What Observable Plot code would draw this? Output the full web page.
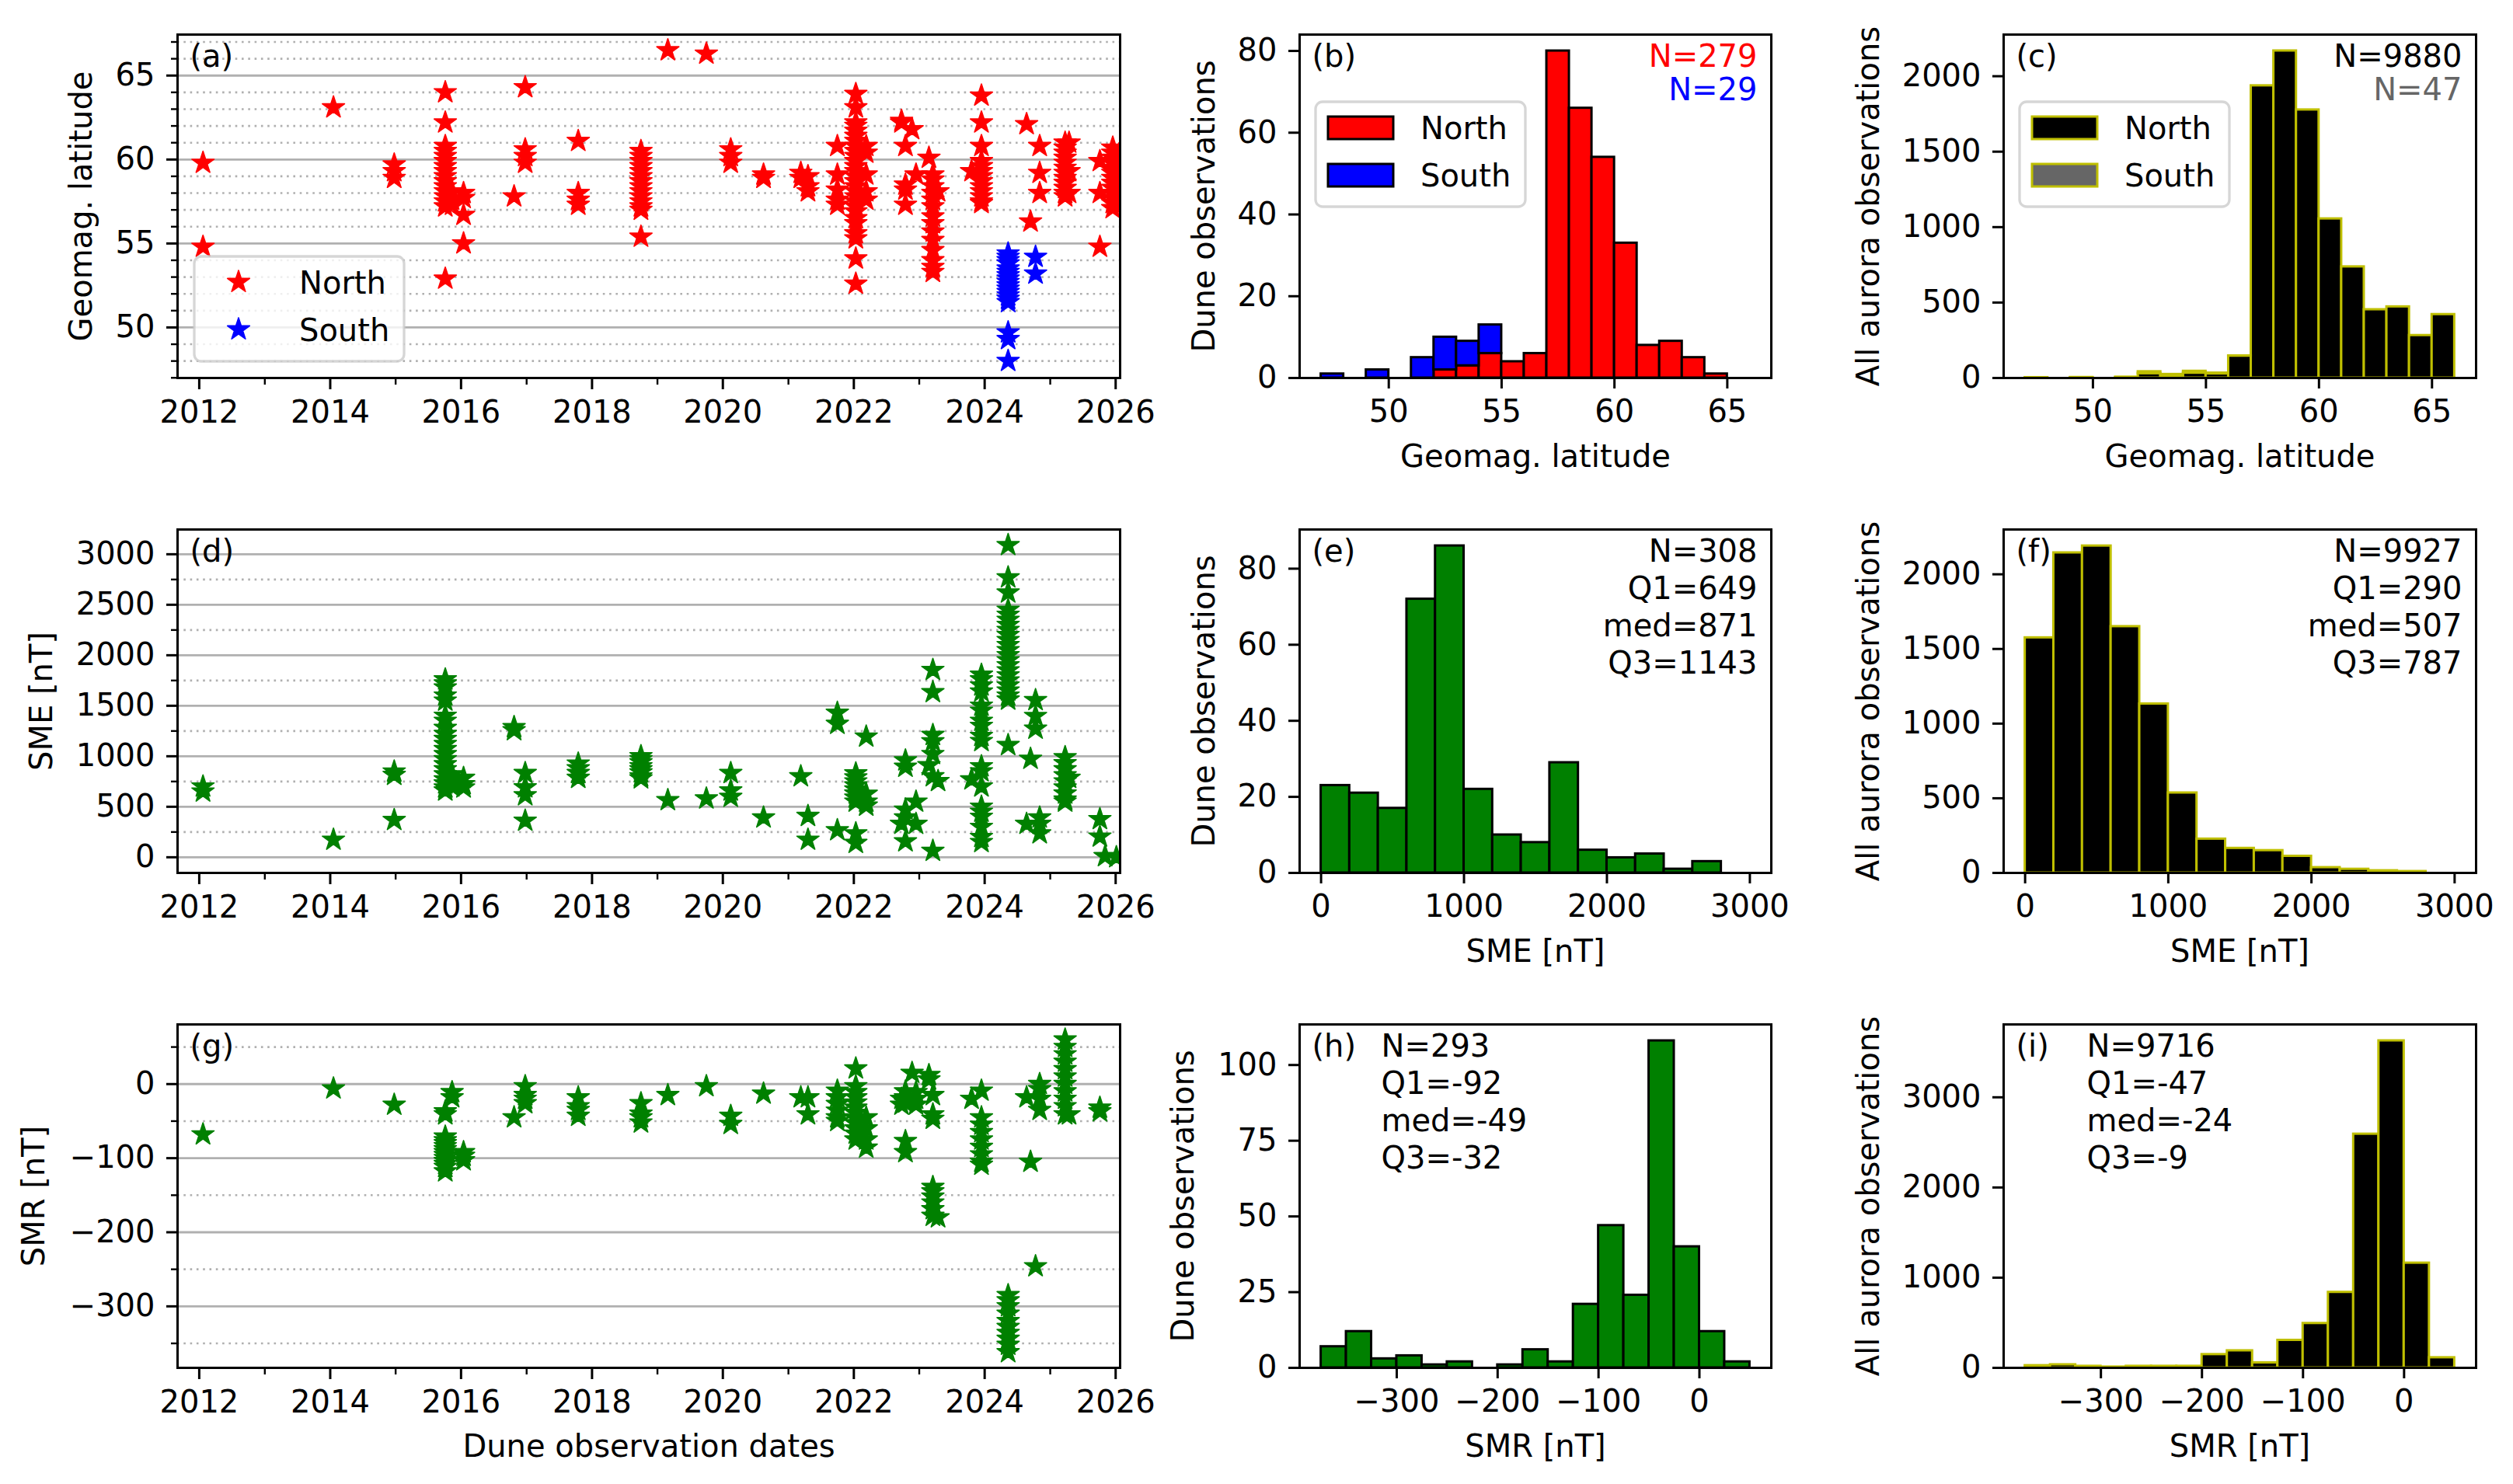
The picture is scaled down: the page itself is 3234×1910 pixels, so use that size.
<!DOCTYPE html>
<html>
<head>
<meta charset="utf-8">
<script src="https://cdn.jsdelivr.net/npm/d3@7"></script>
<script src="https://cdn.jsdelivr.net/npm/@observablehq/plot@0.6"></script>
<style>
  html, body { margin: 0; padding: 0; background: #ffffff; }
  #fig { position: relative; width: 3234px; height: 1910px; background: #ffffff; overflow: hidden;
         font-family: "DejaVu Sans", sans-serif; }
</style>
</head>
<body>
<div id="fig"></div>
<script>
// ---------------- DATA ----------------
// Scatter observations: [date, [values...]]
const northLat = [
  ["2012-01-22", [59.8, 54.8]],
  ["2014-01-19", [63.1]],
  ["2014-12-24", [59.7, 59.3, 58.9]],
  ["2015-10-05", [64.0, 62.2, 60.8, 60.5, 60.2, 59.9, 59.6, 59.3, 59.0, 58.7, 58.4, 58.1, 57.8, 57.5, 57.2, 52.9]],
  ["2015-11-12", [58.1, 57.6, 57.3]],
  ["2016-01-15", [58.0, 57.7, 56.7, 55.0]],
  ["2016-10-23", [57.8]],
  ["2016-12-24", [64.3, 60.6, 60.2, 59.8]],
  ["2017-10-16", [61.1, 58.0, 57.6, 57.3]],
  ["2018-10-01", [60.5, 60.2, 59.9, 59.6, 59.3, 59.0, 58.7, 58.4, 58.1, 57.8, 57.5, 57.2, 57.0, 55.4]],
  ["2019-02-28", [66.5]],
  ["2019-10-01", [66.3]],
  ["2020-02-14", [60.6, 60.2, 59.8]],
  ["2020-08-15", [59.1, 58.9]],
  ["2021-03-11", [59.2, 58.9]],
  ["2021-04-20", [59.0, 58.4, 58.1]],
  ["2021-10-01", [60.8, 59.1, 58.2, 57.6, 57.3]],
  ["2022-01-12", [63.9, 63.1, 62.2, 62.0, 61.7, 61.4, 61.1, 60.8, 60.5, 60.2, 59.9, 59.6, 59.3, 59.0, 58.7, 58.4, 58.1, 57.8, 57.5, 57.2, 56.9, 56.5, 56.2, 55.6, 55.3, 54.1, 52.6]],
  ["2022-03-11", [60.8, 60.4, 59.1, 58.1, 57.6]],
  ["2022-09-24", [62.3, 62.2]],
  ["2022-10-16", [60.8, 58.5, 58.2, 57.3]],
  ["2022-11-22", [61.8]],
  ["2022-12-14", [59.1]],
  ["2023-02-24", [60.1]],
  ["2023-03-18", [59.1, 58.8, 58.4, 58.0, 57.6, 57.2, 56.6, 56.2, 55.7, 55.2, 54.6, 54.0, 53.6, 53.3]],
  ["2023-04-16", [58.1]],
  ["2023-10-20", [59.3]],
  ["2023-12-14", [63.8, 62.2, 60.8, 59.9, 59.6, 59.3, 59.0, 58.7, 58.4, 58.1, 57.8, 57.5, 57.4]],
  ["2024-08-22", [62.1]],
  ["2024-09-13", [56.3]],
  ["2024-11-03", [60.8, 59.2, 58.0]],
  ["2025-03-25", [61.0, 60.7, 60.4, 60.1, 59.8, 59.5, 59.2, 58.9, 58.6, 58.3, 58.0, 57.8]],
  ["2025-04-16", [61.0, 59.3, 58.0]],
  ["2025-10-05", [59.9, 58.0, 54.8]],
  ["2025-12-16", [60.7, 60.4, 60.1, 59.8, 59.5, 59.2, 58.9, 58.6, 58.3, 58.0, 57.7, 57.4, 57.1]],
  ["2026-01-19", [60.3, 59.5, 58.5, 57.8]]
];
const southLat = [
  ["2024-05-11", [54.4, 54.2, 54.0, 53.8, 53.5, 53.3, 53.1, 52.9, 52.7, 52.5, 52.3, 52.1, 51.9, 51.7, 51.5, 49.7, 49.3, 48.0]],
  ["2024-10-11", [54.2, 53.2]]
];
const smeObs = [
  ["2012-01-22", [700, 650]],
  ["2014-01-19", [173]],
  ["2014-12-24", [848, 815, 368]],
  ["2015-10-05", [1760, 1720, 1680, 1600, 1550, 1400, 1350, 1280, 1220, 1170, 1120, 1070, 1020, 970, 920, 870, 820, 770, 730, 690, 660]],
  ["2015-11-12", [820, 780, 740, 700]],
  ["2016-01-15", [785, 723, 690]],
  ["2016-10-23", [1288, 1257]],
  ["2016-12-24", [833, 691, 613, 361]],
  ["2017-10-16", [927, 880, 833, 785]],
  ["2018-10-01", [1000, 970, 940, 900, 870, 840, 800, 780]],
  ["2019-02-28", [565]],
  ["2019-10-01", [581]],
  ["2020-02-14", [833, 660, 597]],
  ["2020-08-15", [393]],
  ["2021-03-11", [801]],
  ["2021-04-20", [408, 173]],
  ["2021-10-01", [1430, 1320, 267]],
  ["2022-01-12", [830, 790, 750, 710, 670, 630, 590, 550, 236, 141]],
  ["2022-03-11", [1194, 628, 550, 510]],
  ["2022-09-24", [330]],
  ["2022-10-16", [958, 895, 471, 393, 157]],
  ["2022-12-14", [550, 330]],
  ["2023-02-24", [911]],
  ["2023-03-18", [1854, 1634, 1210, 1147, 1021, 801, 63]],
  ["2023-04-16", [754]],
  ["2023-10-20", [770]],
  ["2023-12-14", [1806, 1760, 1700, 1640, 1500, 1450, 1350, 1300, 1200, 1150, 900, 850, 700, 500, 450, 400, 300, 200, 150]],
  ["2024-05-11", [3090, 2770, 2620, 2450, 2400, 2350, 2300, 2250, 2200, 2150, 2100, 2050, 2000, 1950, 1900, 1850, 1800, 1750, 1700, 1650, 1600, 1560, 1110]],
  ["2024-08-22", [330]],
  ["2024-09-13", [974]],
  ["2024-10-11", [1555, 1398, 1272]],
  ["2024-11-03", [393, 330, 236]],
  ["2025-03-25", [990, 930, 870, 810, 750, 690, 630, 570, 550]],
  ["2025-04-16", [785]],
  ["2025-10-05", [377, 204]],
  ["2025-11-03", [10]],
  ["2026-01-05", [0]]
];
const smrObs = [
  ["2012-01-22", [-68]],
  ["2014-01-19", [-6]],
  ["2014-12-24", [-28]],
  ["2015-10-05", [-37, -41, -71, -76, -80, -84, -88, -92, -96, -100, -104, -108, -112, -118]],
  ["2015-11-12", [-11, -18]],
  ["2016-01-15", [-92, -97, -103]],
  ["2016-10-23", [-45]],
  ["2016-12-24", [-3, -15, -20, -26]],
  ["2017-10-16", [-18, -30, -35, -43]],
  ["2018-10-01", [-26, -40, -45, -52]],
  ["2019-02-28", [-15]],
  ["2019-10-01", [-3]],
  ["2020-02-14", [-43, -54]],
  ["2020-08-15", [-13]],
  ["2021-03-11", [-18]],
  ["2021-04-20", [-18, -41]],
  ["2021-10-01", [-9, -18, -27, -36, -45, -50]],
  ["2022-01-12", [21, -3, -11, -18, -25, -32, -39, -46, -53, -60, -67, -75]],
  ["2022-03-11", [-45, -60, -75, -86]],
  ["2022-09-24", [-20, -28]],
  ["2022-10-16", [-10, -18, -25, -77, -92]],
  ["2022-11-22", [15]],
  ["2022-12-14", [-11, -20, -28]],
  ["2023-02-24", [12, 6]],
  ["2023-03-18", [-15, -41, -47, -139, -145, -152, -160, -169, -178]],
  ["2023-04-16", [-180]],
  ["2023-10-20", [-20]],
  ["2023-12-14", [-9, -45, -55, -65, -75, -85, -95, -105, -109]],
  ["2024-05-11", [-285, -292, -300, -310, -320, -328, -336, -344, -352, -362]],
  ["2024-08-22", [-18]],
  ["2024-09-13", [-105]],
  ["2024-10-11", [-246]],
  ["2024-11-03", [0, -7, -20, -35]],
  ["2025-03-25", [60, 50, 40, 30, 20, 10, 0, -10, -20, -30, -41]],
  ["2025-04-16", [-41]],
  ["2025-10-05", [-32, -37]]
];

// Histogram bins (edges) and counts
const latEdges = [47, 48, 49, 50, 51, 52, 53, 54, 55, 56, 57, 58, 59, 60, 61, 62, 63, 64, 65, 66];
const duneLatNorth = [0, 0, 0, 0, 0, 2, 3, 6, 4, 6, 80, 66, 54, 33, 8, 9, 5, 1, 0];
const duneLatSouth = [1, 0, 2, 0, 5, 8, 6, 7, 0, 0, 0, 0, 0, 0, 0, 0, 0, 0, 0];
const allLatNorth  = [1, 0, 2, 0, 3, 30, 14, 33, 28, 146, 1937, 2168, 1777, 1055, 737, 453, 472, 282, 421];
const allLatSouth  = [2, 0, 2, 0, 3, 12, 10, 12, 5, 1, 0, 0, 0, 0, 0, 0, 0, 0, 0];

const smeEdges = [0, 200, 400, 600, 800, 1000, 1200, 1400, 1600, 1800, 2000, 2200, 2400, 2600, 2800];
const duneSme = [23, 21, 17, 72, 86, 22, 10, 8, 29, 6, 4, 5, 1, 3];
const allSme  = [1575, 2144, 2190, 1650, 1132, 536, 227, 165, 150, 112, 36, 25, 15, 10];

const smrEdges = [-375, -350, -325, -300, -275, -250, -225, -200, -175, -150, -125, -100, -75, -50, -25, 0, 25, 50];
const duneSmr = [7, 12, 3, 4, 1, 2, 0, 1, 6, 2, 21, 47, 24, 108, 40, 12, 2];
const allSmr  = [25, 35, 18, 10, 18, 18, 18, 148, 190, 56, 306, 493, 838, 2592, 3627, 1162, 113];

// Tick values
const yearTicks = [2012, 2014, 2016, 2018, 2020, 2022, 2024, 2026];
const yearMinorTicks = [2013, 2015, 2017, 2019, 2021, 2023, 2025];
const latMajor = [50, 55, 60, 65];
const latMinor = [47, 48, 49, 51, 52, 53, 54, 56, 57, 58, 59, 61, 62, 63, 64, 66, 67];
const smeMajor = [0, 500, 1000, 1500, 2000, 2500, 3000];
const smeMinor = [250, 750, 1250, 1750, 2250, 2750];
const smrMajor = [-300, -200, -100, 0];
const smrMinor = [-350, -250, -150, -50, 50];

// Text annotations
const statsE = ["N=308", "Q1=649", "med=871", "Q3=1143"];
const statsF = ["N=9927", "Q1=290", "med=507", "Q3=787"];
const statsH = ["N=293", "Q1=-92", "med=-49", "Q3=-32"];
const statsI = ["N=9716", "Q1=-47", "med=-24", "Q3=-9"];

// ---------------- LAYOUT ----------------
const COLX = [[228, 1441], [1672, 2279], [2578, 3186]];
const ROWY = [[44, 486], [681, 1123], [1318, 1760]];
const M = {l: 240, r: 40, t: 24, b: 150};
const GRID = "#b0b0b0";
const YELLOW = "#bfbf00";
const STAR_R = 9.0;
const fig = document.getElementById("fig");

const fmt = d => (d < 0 ? "\u2212" : "") + Math.abs(d);
const utc = s => new Date(s + "T00:00:00Z");
const yearDate = y => new Date(Date.UTC(y, 0, 1));
const toPoints = obs => obs.flatMap(([d, vs]) => vs.map(v => ({date: utc(d), v})));
const dateDomain = [utc("2011-09-02"), utc("2026-01-26")];

function panel(col, row, x, y, marks) {
  const [fx0, fx1] = COLX[col], [fy0, fy1] = ROWY[row];
  const svg = Plot.plot({
    width: fx1 - fx0 + M.l + M.r,
    height: fy1 - fy0 + M.t + M.b,
    marginLeft: M.l, marginRight: M.r, marginTop: M.t, marginBottom: M.b,
    x, y,
    style: {fontFamily: "'DejaVu Sans', sans-serif", fontSize: "40px", background: "transparent",
            maxWidth: "none", overflow: "visible", color: "black"},
    marks: marks.filter(Boolean)
  });
  const div = document.createElement("div");
  div.style.cssText = `position:absolute;left:${fx0 - M.l}px;top:${fy0 - M.t}px;`;
  div.appendChild(svg);
  fig.appendChild(div);
}

const T = d => d;
const tag = s => Plot.text([s], {text: T, frameAnchor: "top-left", dx: 16, dy: 41, textAnchor: "start", lineAnchor: "bottom", fill: "black"});
const ylab = (s, cx, col) => Plot.text([s], {text: T, frameAnchor: "left", dx: cx - COLX[col][0], rotate: -90, textAnchor: "middle", lineAnchor: "middle", fill: "black"});
const xlab = s => Plot.text([s], {text: T, frameAnchor: "bottom", dy: 114, textAnchor: "middle", lineAnchor: "bottom", fill: "black"});
const rightText = (s, dy, fill) => Plot.text([s], {text: T, frameAnchor: "top-right", dx: -18, dy, textAnchor: "end", lineAnchor: "bottom", fill});
const leftText = (s, dx, dy, fill) => Plot.text([s], {text: T, frameAnchor: "top-left", dx, dy, textAnchor: "start", lineAnchor: "bottom", fill});

function scatter(col, row, series, yDomain, major, minor, tagText, ylabel, ylabelX, xlabel) {
  panel(col, row,
    {type: "utc", domain: dateDomain},
    {domain: yDomain},
    [
      Plot.gridY(minor, {stroke: GRID, strokeOpacity: 1, strokeWidth: 2.6, strokeDasharray: "2.6 5.7"}),
      Plot.gridY(major, {stroke: GRID, strokeOpacity: 1, strokeWidth: 2.8}),
      ...series.map(([obs, color]) => Plot.dot(toPoints(obs), {x: "date", y: "v", symbol: "star", r: STAR_R, fill: color, stroke: color, strokeWidth: 1.6, strokeLinejoin: "round", clip: true})),
      Plot.axisX(yearTicks.map(yearDate), {anchor: "bottom", tickSize: 15, tickPadding: 14, strokeWidth: 3, tickFormat: d => String(d.getUTCFullYear()), label: null}),
      Plot.axisX(yearMinorTicks.map(yearDate), {anchor: "bottom", tickSize: 9, strokeWidth: 2.4, tickFormat: () => "", label: null}),
      Plot.axisY(major, {anchor: "left", tickSize: 14, tickPadding: 15, strokeWidth: 3, tickFormat: fmt, label: null}),
      Plot.axisY(minor, {anchor: "left", tickSize: 8, strokeWidth: 2.4, tickFormat: () => "", label: null}),
      Plot.frame({stroke: "black", strokeWidth: 3}),
      tag(tagText),
      ylab(ylabel, ylabelX, col),
      xlabel ? xlab(xlabel) : null
    ]);
}

function bars(edges, counts, base) {
  const out = [];
  counts.forEach((c, i) => {
    if (c > 0) {
      const b = base ? base[i] : 0;
      out.push({x1: edges[i], x2: edges[i + 1], y1: b, y2: b + c});
    }
  });
  return out;
}

function hist(col, row, layers, xDomain, yDomain, xTicks, yTicks, tagText, ylabel, ylabelX, xlabel, extra) {
  panel(col, row,
    {domain: xDomain},
    {domain: yDomain},
    [
      ...layers.map(([data, fill, stroke]) => Plot.rect(data, {x1: "x1", x2: "x2", y1: "y1", y2: "y2", fill, stroke, strokeWidth: 3, inset: 0})),
      Plot.axisX(xTicks, {anchor: "bottom", tickSize: 14, tickPadding: 14, strokeWidth: 3, tickFormat: fmt, label: null}),
      Plot.axisY(yTicks, {anchor: "left", tickSize: 14, tickPadding: 15, strokeWidth: 3, tickFormat: fmt, label: null}),
      Plot.frame({stroke: "black", strokeWidth: 3}),
      tag(tagText),
      ylab(ylabel, ylabelX, col),
      xlab(xlabel),
      ...extra
    ]);
}

// ---------------- PANELS ----------------
// Row 1
scatter(0, 0, [[northLat, "#ff0000"], [southLat, "#0000ff"]], [46.99, 67.44], latMajor, latMinor, "(a)", "Geomag. latitude", 105, null);
hist(1, 0,
  [[bars(latEdges, duneLatNorth), "#ff0000", "black"], [bars(latEdges, duneLatSouth, duneLatNorth), "#0000ff", "black"]],
  [46.05, 66.95], [0, 84], [50, 55, 60, 65], [0, 20, 40, 60, 80],
  "(b)", "Dune observations", 1550, "Geomag. latitude",
  [rightText("N=279", 41, "#ff0000"), rightText("N=29", 84, "#0000ff")]);
hist(2, 0,
  [[bars(latEdges, allLatNorth), "black", YELLOW], [bars(latEdges, allLatSouth, allLatNorth), "#666666", YELLOW]],
  [46.05, 66.95], [0, 2276], [50, 55, 60, 65], [0, 500, 1000, 1500, 2000],
  "(c)", "All aurora observations", 2405, "Geomag. latitude",
  [rightText("N=9880", 41, "black"), rightText("N=47", 84, "#666666")]);

// Row 2
scatter(0, 1, [[smeObs, "#008000"]], [-155, 3245], smeMajor, smeMinor, "(d)", "SME [nT]", 54, null);
hist(1, 1,
  [[bars(smeEdges, duneSme), "#008000", "black"]],
  [-150, 3150], [0, 90.3], [0, 1000, 2000, 3000], [0, 20, 40, 60, 80],
  "(e)", "Dune observations", 1550, "SME [nT]",
  statsE.map((s, i) => rightText(s, 41 + i * 48, "black")));
hist(2, 1,
  [[bars(smeEdges, allSme), "black", YELLOW]],
  [-150, 3150], [0, 2300], [0, 1000, 2000, 3000], [0, 500, 1000, 1500, 2000],
  "(f)", "All aurora observations", 2405, "SME [nT]",
  statsF.map((s, i) => rightText(s, 41 + i * 48, "black")));

// Row 3
scatter(0, 2, [[smrObs, "#008000"]], [-383, 80.5], smrMajor, smrMinor, "(g)", "SMR [nT]", 44, "Dune observation dates");
hist(1, 2,
  [[bars(smrEdges, duneSmr), "#008000", "black"]],
  [-396.25, 71.25], [0, 113.4], [-300, -200, -100, 0], [0, 25, 50, 75, 100],
  "(h)", "Dune observations", 1523, "SMR [nT]",
  statsH.map((s, i) => leftText(s, 105, 41 + i * 48, "black")));
hist(2, 2,
  [[bars(smrEdges, allSmr), "black", YELLOW]],
  [-396.25, 71.25], [0, 3808], [-300, -200, -100, 0], [0, 1000, 2000, 3000],
  "(i)", "All aurora observations", 2405, "SMR [nT]",
  statsI.map((s, i) => leftText(s, 107, 41 + i * 48, "black")));

// ---------------- LEGENDS (overlay) ----------------
const ov = d3.select(fig).append("svg")
  .attr("width", 3234).attr("height", 1910)
  .style("position", "absolute").style("left", "0px").style("top", "0px")
  .style("font-family", "'DejaVu Sans', sans-serif").style("font-size", "40px");

function legendBox(x, y) {
  ov.append("rect").attr("x", x).attr("y", y).attr("width", 270).attr("height", 135)
    .attr("rx", 9).attr("fill", "white").attr("fill-opacity", 0.8)
    .attr("stroke", "#cccccc").attr("stroke-opacity", 0.8).attr("stroke-width", 3.3);
}
function legendText(s, x, y) {
  ov.append("text").attr("x", x).attr("y", y).attr("fill", "black").text(s);
}
// (a)
legendBox(250, 330);
const starPath = d3.symbol(d3.symbolStar, Math.PI * STAR_R * STAR_R)();
ov.append("path").attr("d", starPath).attr("transform", "translate(307,363)").attr("fill", "#ff0000").attr("stroke", "#ff0000").attr("stroke-width", 1.6).attr("stroke-linejoin", "round");
ov.append("path").attr("d", starPath).attr("transform", "translate(307,424)").attr("fill", "#0000ff").attr("stroke", "#0000ff").attr("stroke-width", 1.6).attr("stroke-linejoin", "round");
legendText("North", 385, 378);
legendText("South", 385, 439);
// (b)
legendBox(1693, 131);
ov.append("rect").attr("x", 1709).attr("y", 150).attr("width", 84).attr("height", 29).attr("fill", "#ff0000").attr("stroke", "black").attr("stroke-width", 3);
ov.append("rect").attr("x", 1709).attr("y", 211).attr("width", 84).attr("height", 29).attr("fill", "#0000ff").attr("stroke", "black").attr("stroke-width", 3);
legendText("North", 1828, 179);
legendText("South", 1828, 240);
// (c)
legendBox(2599, 131);
ov.append("rect").attr("x", 2615).attr("y", 150).attr("width", 84).attr("height", 29).attr("fill", "black").attr("stroke", YELLOW).attr("stroke-width", 3);
ov.append("rect").attr("x", 2615).attr("y", 211).attr("width", 84).attr("height", 29).attr("fill", "#666666").attr("stroke", YELLOW).attr("stroke-width", 3);
legendText("North", 2734, 179);
legendText("South", 2734, 240);
</script>
</body>
</html>
